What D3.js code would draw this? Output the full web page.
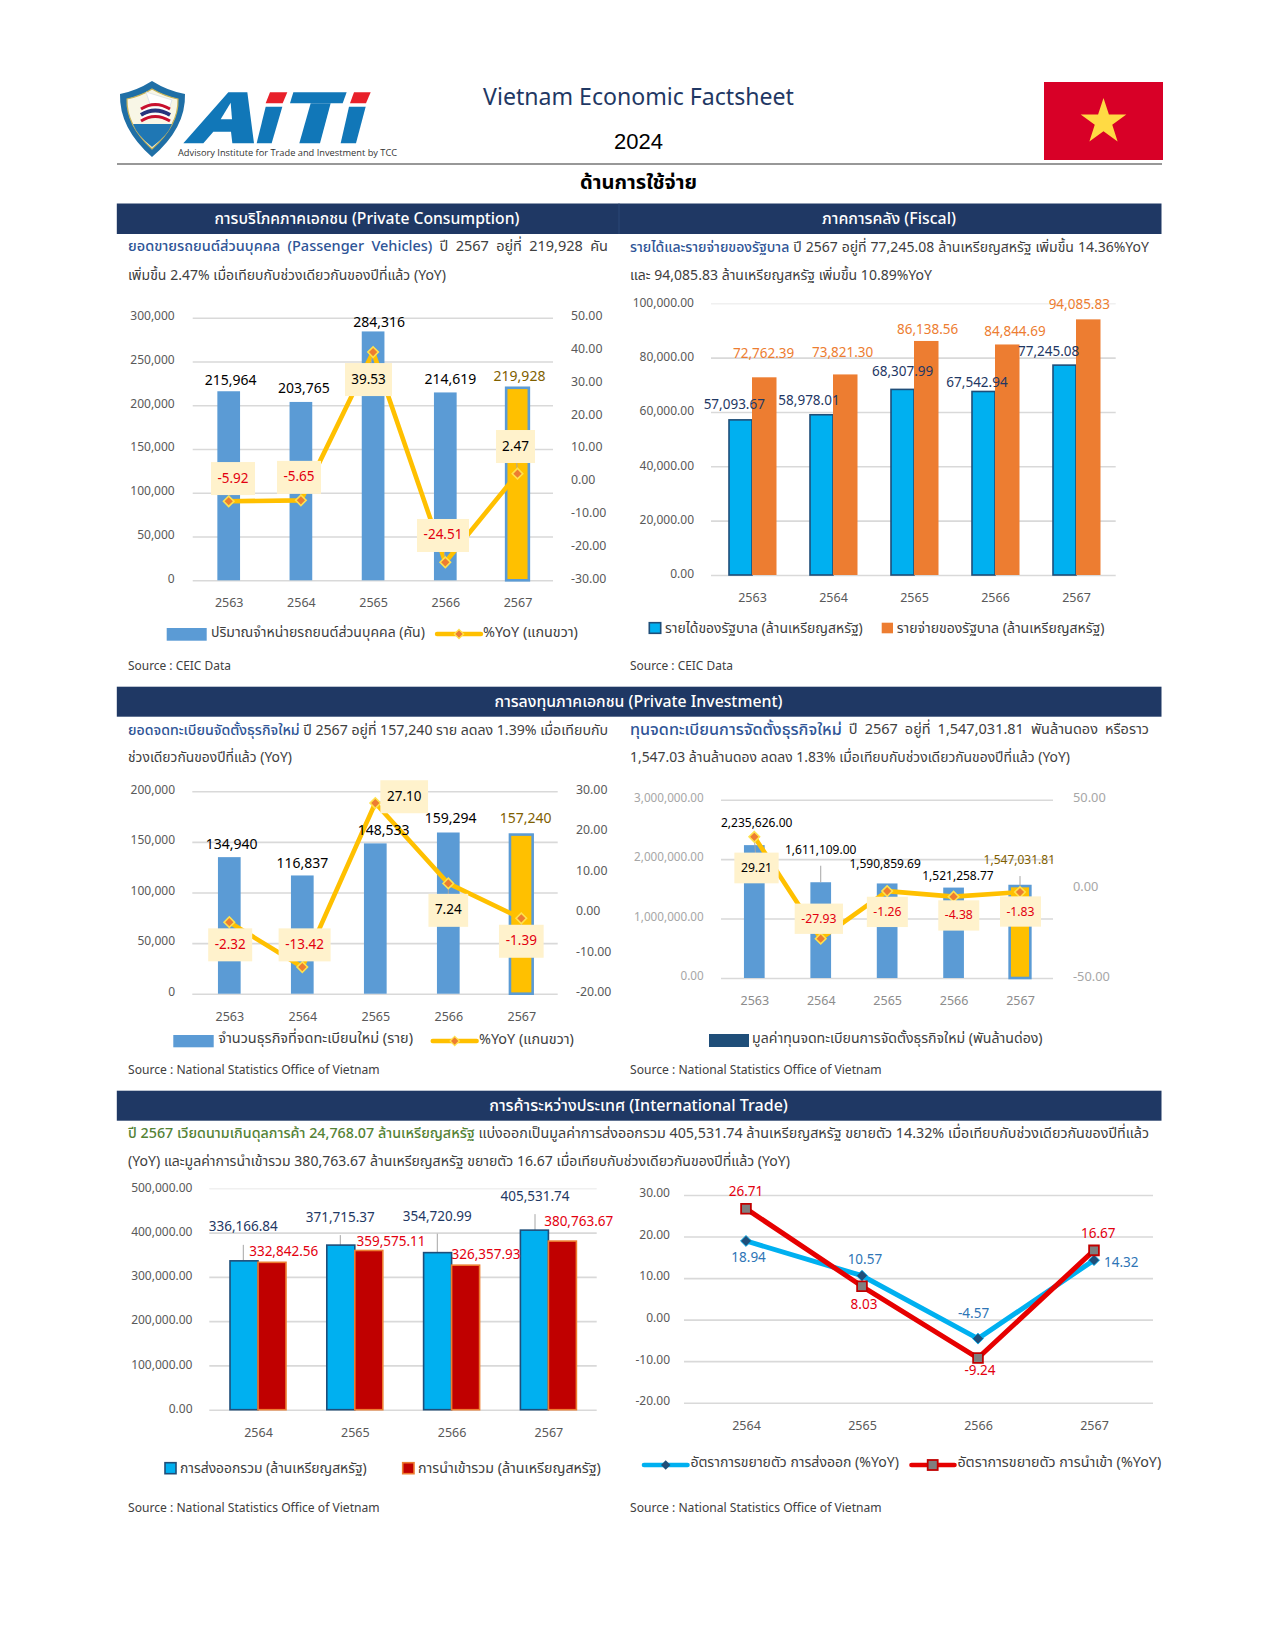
<!DOCTYPE html>
<html lang="th"><head><meta charset="utf-8">
<script src="https://cdn.jsdelivr.net/npm/d3@7"></script>
<style>
html,body{margin:0;padding:0;background:#fff}
svg{display:block}
text{font-family:"Noto Sans Thai","Noto Sans","Open Sans",sans-serif}
.tick line{stroke:#d9d9d9;stroke-width:1.6}
</style></head><body>
<svg id="page" width="1275" height="1650" xmlns="http://www.w3.org/2000/svg"></svg>
<script>
// ---------- data ----------
const yearsFive = ["2563","2564","2565","2566","2567"];
const yearsFour = ["2564","2565","2566","2567"];

const vehicleUnits = [215964,203765,284316,214619,219928];
const vehicleYoY = [-5.92,-5.65,39.53,-24.51,2.47];
const vehicleTicksLeft = [0,50000,100000,150000,200000,250000,300000];
const vehicleTicksRight = [-30,-20,-10,0,10,20,30,40,50];

const govRevenue = [57093.67,58978.01,68307.99,67542.94,77245.08];
const govExpense = [72762.39,73821.30,86138.56,84844.69,94085.83];
const govTicks = [0,20000,40000,60000,80000,100000];

const firmCount = [134940,116837,148533,159294,157240];
const firmYoY = [-2.32,-13.42,27.10,7.24,-1.39];
const firmTicksLeft = [0,50000,100000,150000,200000];
const firmTicksRight = [-20,-10,0,10,20,30];

const capitalValue = [2235626.00,1611109.00,1590859.69,1521258.77,1547031.81];
const capitalYoY = [29.21,-27.93,-1.26,-4.38,-1.83];
const capitalTicksLeft = [0,1000000,2000000,3000000];
const capitalTicksRight = [-50,0,50];

const exportValue = [336166.84,371715.37,354720.99,405531.74];
const importValue = [332842.56,359575.11,326357.93,380763.67];
const tradeTicks = [0,100000,200000,300000,400000,500000];

const exportYoY = [18.94,10.57,-4.57,14.32];
const importYoY = [26.71,8.03,-9.24,16.67];
const growthTicks = [-20,-10,0,10,20,30];

const titleText = "Vietnam Economic Factsheet";
const yearText = "2024";
const sectionText = "ด้านการใช้จ่าย";
const headConsumption = "การบริโภคภาคเอกชน (Private Consumption)";
const headFiscal = "ภาคการคลัง (Fiscal)";
const headInvestment = "การลงทุนภาคเอกชน (Private Investment)";
const headTrade = "การค้าระหว่างประเทศ (International Trade)";
const srcCeic = "Source : CEIC Data";
const srcNso = "Source : National Statistics Office of Vietnam";

// ---------- helpers ----------
const svg = d3.select("#page");
const C = {navy:"#1f3864",bar:"#5b9bd5",gold:"#ffc000",cyan:"#00b0f0",orange:"#ed7d31",crim:"#c00000",
  red:"#e3000f",box:"#fff2cc",axis:"#595959",grid:"#d9d9d9",body:"#404040",brown:"#7f6000",steel:"#1f4e79"};
const loc = d3.formatLocale({decimal:".",thousands:",",grouping:[3],currency:["",""],minus:"-"});
const f0 = loc.format(",.0f"), f2 = loc.format(",.2f"), p2 = loc.format(".2f");

function fitText(sel, target, lo, hi){
  const n = sel.node(); const len = n.getComputedTextLength();
  const fs = parseFloat(sel.attr("font-size"));
  let r = target/len; r = Math.max(lo, Math.min(hi, r));
  sel.attr("font-size", fs*r);
}
function label(g, x, y, txt, o={}){
  const t = g.append("text").attr("x",x).attr("y",y).attr("text-anchor",o.anchor||"middle")
    .attr("dominant-baseline","central").attr("font-size",o.size||13.5).attr("fill",o.fill||"#000")
    .attr("font-weight",o.weight||400).text(txt);
  if(o.width) fitText(t,o.width,0.6,1.4);
  return t;
}
function band(y0,y1,x0,x1){
  svg.append("rect").attr("x",x0).attr("y",y0).attr("width",x1-x0).attr("height",y1-y0).attr("fill",C.navy);
}
function headText(x,y,t,w){
  label(svg,x,y,t,{fill:"#fff",size:15,width:w,weight:500});
}
function para(x,y,lead,leadColor,rest,width,leadW){
  const size = 14.5;
  const t = svg.append("text").attr("x",x).attr("y",y).attr("dominant-baseline","central")
    .attr("font-size",size).attr("fill",C.body);
  let ls = null;
  if(lead) ls = t.append("tspan").attr("fill",leadColor).attr("font-weight",500).text(lead);
  t.append("tspan").text(rest);
  if(ls && leadW){
    const r = leadW/ls.node().getComputedTextLength();
    ls.attr("font-size",size*Math.max(0.95,Math.min(1.16,r)));
  }
  const s = t.node().textContent;
  const spaces = (s.match(/ /g)||[]).length;
  const len = t.node().getComputedTextLength();
  if(len>width || len<width*0.9){ t.attr("font-size",size*Math.min(1.12,width/len)); if(ls&&leadW) ls.attr("font-size",null); }
  const l2 = t.node().getComputedTextLength();
  if(spaces) t.style("word-spacing",((width-l2)/spaces)+"px");
}
function frame(o){
  const g = svg.append("g");
  const x = d3.scalePoint().domain(o.cats).range(o.xr);
  const y = d3.scaleLinear().domain(o.yd).range(o.yr);
  const grid = g.append("g").attr("transform",`translate(${o.gx[0]},0)`)
    .call(d3.axisLeft(y).tickValues(o.ticks).tickSize(-(o.gx[1]-o.gx[0])).tickFormat(""));
  grid.select(".domain").remove();
  if(o.faintTop) grid.selectAll(".tick line").filter(d=>d===o.ticks[o.ticks.length-1]).style("stroke","#f0f0f0");
  const la = g.append("g").attr("transform",`translate(${o.lx},0)`)
    .call(d3.axisLeft(y).tickValues(o.ticks).tickSize(0).tickPadding(0).tickFormat(o.fmt));
  la.select(".domain").remove();
  la.selectAll("text").attr("font-size",o.tickSize||12).attr("fill",o.tickColor||C.axis)
    .attr("dy","0.32em").attr("y",o.lshift==null?-2:o.lshift).style("font-family",'"Noto Sans","Open Sans",sans-serif');
  const xa = g.append("g").attr("transform",`translate(0,${o.catY})`)
    .call(d3.axisBottom(x).tickSize(0).tickPadding(0));
  xa.select(".domain").remove();
  xa.selectAll("text").attr("font-size",o.catSize||12.5).attr("fill",o.catColor||C.axis)
    .attr("y",0).attr("dy","0.32em").style("font-family",'"Noto Sans","Open Sans",sans-serif');
  return {g,x,y};
}
function rightAxis(g, o){
  const y = d3.scaleLinear().domain(o.yd).range(o.yr);
  const a = g.append("g").attr("transform",`translate(${o.rx},0)`)
    .call(d3.axisRight(y).tickValues(o.ticks).tickSize(0).tickPadding(0).tickFormat(p2));
  a.select(".domain").remove();
  a.selectAll("text").attr("font-size",o.tickSize||12.3).attr("fill",o.tickColor||C.axis)
    .attr("dy","0.32em").attr("y",o.rshift||-2).style("font-family",'"Noto Sans","Open Sans",sans-serif');
  return y;
}
function yoyLine(g,x,y,cats,vals,boxes,o={}){
  const pts = cats.map((c,i)=>[x(c),y(vals[i])]);
  g.append("path").attr("d",d3.line()(pts)).attr("fill","none").attr("stroke",C.gold).attr("stroke-width",4.6).attr("stroke-linejoin","round");
  const m = d3.symbol().type(d3.symbolSquare).size(55);
  g.selectAll(null).data(pts).join("line").attr("x1",d=>d[0]).attr("y1",d=>d[1])
    .attr("x2",(d,i)=>d[0]+boxes[i].dx).attr("y2",(d,i)=>d[1]+boxes[i].dy).attr("stroke","#a6a6a6").attr("stroke-width",1);
  g.selectAll(null).data(pts).join("path").attr("d",m)
    .attr("transform",d=>`translate(${d[0]},${d[1]}) rotate(45)`)
    .attr("fill",C.orange).attr("stroke","#ffe14d").attr("stroke-width",1.6);
  vals.forEach((v,i)=>{
    const b = boxes[i], cx = pts[i][0]+b.dx, cy = pts[i][1]+b.dy;
    g.append("rect").attr("x",cx-b.w/2).attr("y",cy-b.h/2).attr("width",b.w).attr("height",b.h).attr("fill",C.box);
    label(g,cx,cy,p2(v),{fill:v<0?C.red:"#000",size:o.size||13.5});
  });
}
function barLabels(g,x,y,cats,vals,fmt,off,colorOf,size){
  vals.forEach((v,i)=>{
    label(g,x(cats[i])+off[i][0],y(v)+off[i][1],fmt(v),{fill:colorOf(i),size:size||13.5});
  });
}
function singleBars(g,x,y,cats,vals,w,base){
  vals.forEach((v,i)=>{
    const last = i===vals.length-1;
    g.append("rect").attr("x",x(cats[i])-w/2).attr("y",y(v)).attr("width",w).attr("height",base-y(v))
      .attr("fill",last?C.gold:C.bar).attr("stroke",last?C.bar:"none").attr("stroke-width",last?2.6:0);
  });
}
function pairBars(g,x,y,cats,a,b,wa,wb,base,sa,sb){
  cats.forEach((c,i)=>{
    g.append("rect").attr("x",x(c)-wa).attr("y",y(a[i])).attr("width",wa).attr("height",base-y(a[i]))
      .attr("fill",C.cyan).attr("stroke",sa).attr("stroke-width",1.6);
    g.append("rect").attr("x",x(c)).attr("y",y(b[i])).attr("width",wb).attr("height",base-y(b[i]))
      .attr("fill",b===importValue?C.crim:C.orange).attr("stroke",sb).attr("stroke-width",b===importValue?1.6:0);
  });
}
function legendSwatch(x0,x1,y0,y1,fill,stroke,tx,ty,t,tw){
  svg.append("rect").attr("x",x0).attr("y",y0).attr("width",x1-x0).attr("height",y1-y0).attr("fill",fill)
    .attr("stroke",stroke||"none").attr("stroke-width",stroke?1.6:0);
  label(svg,tx,ty,t,{anchor:"start",size:14,fill:C.body,width:tw});
}
function legendYoY(x0,x1,y,tx,ty,t,tw){
  svg.append("line").attr("x1",x0).attr("x2",x1).attr("y1",y).attr("y2",y).attr("stroke",C.gold).attr("stroke-width",4.4).attr("stroke-linecap","round");
  svg.append("path").attr("d",d3.symbol().type(d3.symbolSquare).size(42)).attr("transform",`translate(${(x0+x1)/2},${y}) rotate(45)`)
    .attr("fill",C.orange).attr("stroke","#ffe14d").attr("stroke-width",1.3);
  label(svg,tx,ty,t,{anchor:"start",size:14,fill:C.body,width:tw});
}
function source(x,y,t,w){ label(svg,x,y,t,{anchor:"start",size:12,fill:C.body,width:w}); }

// ---------- header ----------
const u = (a)=>a.map(p=>[p[0]/3+100,p[1]/3+60].join(",")).join(" ");
const logo = svg.append("g");
const logoBlue="#1177b8", logoRed="#e8202a";
[[[250,250],[385,97],[442,97],[462,250],[397,250],[393,215],[340,215],[310,250]],
 [[497,140],[547,140],[515,250],[470,250]],
 [[632,130],[692,130],[660,250],[598,250]],
 [[747,140],[797,140],[768,250],[722,250]],
 [[580,97],[740,97],[728,130],[570,130]]].forEach(p=>logo.append("polygon").attr("points",u(p)).attr("fill",logoBlue));
[[[362,178],[392,128],[396,178]]].forEach(p=>logo.append("polygon").attr("points",u(p)).attr("fill","#fff"));
[[[510,97],[562,97],[548,130],[497,130]],[[762,97],[812,97],[798,130],[750,130]]]
 .forEach(p=>logo.append("polygon").attr("points",u(p)).attr("fill",logoRed));
logo.append("path").attr("d","M120,94 Q136,91 152,81 Q168,91 185,94 Q186,128 152,157 Q119,128 120,94Z").attr("fill","#1f6fa6");
logo.append("path").attr("d","M127,99 Q141,96 152,89 Q164,96 178,99 Q179,125 152,149 Q126,125 127,99Z").attr("fill","#f8f6e6").attr("stroke","#c9b458").attr("stroke-width",1.2);
logo.append("polygon").attr("points","146,92 172,100 168,112 150,104").attr("fill","#fff").attr("stroke","#cfd8e3").attr("stroke-width",.6);
logo.append("path").attr("d","M133,124 L172,124 Q168,135 152,147 Q137,135 133,124Z").attr("fill","#1f77b4");
[["#c8102e",105,3],["#fff",108.3,1.8],["#27357e",111,4],["#fff",114.3,1.8],["#c8102e",117,3]].forEach(s=>{
  logo.append("path").attr("d",`M141,${s[1]+4} Q155,${s[1]-5} 170,${s[1]+4}`).attr("fill","none").attr("stroke",s[0]).attr("stroke-width",s[2]);
});
label(svg,178,152,"Advisory Institute for Trade and Investment by TCC",{anchor:"start",size:10,fill:"#333",width:221}).style("font-family",'"Open Sans",sans-serif');

label(svg,638.5,96,titleText,{size:23,fill:C.navy,width:311}).style("font-family",'"Noto Sans",sans-serif');
label(svg,638.5,141,yearText,{size:22,fill:"#000"}).style("font-family",'"Liberation Sans",sans-serif');
svg.append("rect").attr("x",1044).attr("y",82).attr("width",119).attr("height",78).attr("fill","#d80027");
const star = d3.range(10).map(i=>{const r=i%2?9.2:24,a=-Math.PI/2+i*Math.PI/5;return [1103.5+r*Math.cos(a),122+r*Math.sin(a)].join(",")}).join(" ");
svg.append("polygon").attr("points",star).attr("fill","#ffda44");
svg.append("line").attr("x1",117).attr("x2",1162).attr("y1",164).attr("y2",164).attr("stroke","#333").attr("stroke-width",1.2);
label(svg,638.5,183,sectionText,{size:19,fill:"#000",weight:700,width:117});

band(203.5,234,116.8,1161.5);
svg.append("line").attr("x1",619).attr("x2",619).attr("y1",203.5).attr("y2",234).attr("stroke","#2a4676").attr("stroke-width",1);
headText(367,218.5,headConsumption,305);
headText(889,218.5,headFiscal,134);
band(686.7,716.7,116.8,1161.5);
headText(638.5,701.5,headInvestment,288);
band(1090.7,1120.7,116.8,1161.5);
headText(638.5,1105.5,headTrade,299);

// ---------- paragraphs ----------
const leadBlue="#2f5597", leadGreen="#548235";
para(128,247,"ยอดขายรถยนต์ส่วนบุคคล (Passenger Vehicles)",leadBlue," ปี 2567 อยู่ที่ 219,928 คัน",480);
para(128,275,"",null,"เพิ่มขึ้น 2.47% เมื่อเทียบกับช่วงเดียวกันของปีที่แล้ว (YoY)",318);
para(630,247,"รายได้และรายจ่ายของรัฐบาล",leadBlue," ปี 2567 อยู่ที่ 77,245.08 ล้านเหรียญสหรัฐ เพิ่มขึ้น 14.36%YoY",519,167);
para(630,275,"",null,"และ 94,085.83 ล้านเหรียญสหรัฐ เพิ่มขึ้น 10.89%YoY",302);
para(128,730,"ยอดจดทะเบียนจัดตั้งธุรกิจใหม่",leadBlue," ปี 2567 อยู่ที่ 157,240 ราย ลดลง 1.39% เมื่อเทียบกับ",480,175);
para(128,757,"",null,"ช่วงเดียวกันของปีที่แล้ว (YoY)",164);
para(630,730,"ทุนจดทะเบียนการจัดตั้งธุรกิจใหม่",leadBlue," ปี 2567 อยู่ที่ 1,547,031.81 พันล้านดอง หรือราว",519,212);
para(630,757,"",null,"1,547.03 ล้านล้านดอง ลดลง 1.83% เมื่อเทียบกับช่วงเดียวกันของปีที่แล้ว (YoY)",440);
para(128,1133,"ปี 2567 เวียดนามเกินดุลการค้า 24,768.07 ล้านเหรียญสหรัฐ",leadGreen," แบ่งออกเป็นมูลค่าการส่งออกรวม 405,531.74 ล้านเหรียญสหรัฐ ขยายตัว 14.32% เมื่อเทียบกับช่วงเดียวกันของปีที่แล้ว",1021);
para(128,1161,"",null,"(YoY) และมูลค่าการนำเข้ารวม 380,763.67 ล้านเหรียญสหรัฐ ขยายตัว 16.67 เมื่อเทียบกับช่วงเดียวกันของปีที่แล้ว (YoY)",662);

// ---------- chart 1: vehicles ----------
{
  const base=580.3;
  const c=frame({cats:yearsFive,xr:[228.7,517.5],yd:[0,300000],yr:[base,317.7],gx:[192.7,553],ticks:vehicleTicksLeft,lx:174.7,fmt:f0,catY:603});
  const yR=rightAxis(c.g,{yd:[-30,50],yr:[base,317.7],rx:571,ticks:vehicleTicksRight});
  singleBars(c.g,c.x,c.y,yearsFive,vehicleUnits,22.7,base);
  yoyLine(c.g,c.x,yR,yearsFive,vehicleYoY,[
    {dx:4.3,dy:-22.7,w:44,h:33},{dx:-1.9,dy:-23,w:44,h:33},{dx:-4.6,dy:27.5,w:47,h:33},{dx:-2.3,dy:-26.8,w:52,h:33},{dx:-2,dy:-27.2,w:39,h:33}]);
  barLabels(c.g,c.x,c.y,yearsFive,vehicleUnits,f0,[[2,-11],[3,-13],[6,-9],[5,-13],[2,-11]],i=>i==4?C.brown:"#000",14);
  legendSwatch(166.7,206.7,628,640.7,C.bar,null,211,632,"ปริมาณจำหน่ายรถยนต์ส่วนบุคคล (คัน)",214);
  legendYoY(437,481,634,483,632,"%YoY (แกนขวา)",95);
  source(128,666,srcCeic,103);
}
// ---------- chart 2: fiscal ----------
{
  const base=575;
  const c=frame({cats:yearsFive,xr:[752,1076],yd:[0,100000],yr:[base,303.3],gx:[711,1115.7],ticks:govTicks,lx:694,fmt:f2,catY:598,lshift:-1,faintTop:true});
  pairBars(c.g,c.x,c.y,yearsFive,govRevenue,govExpense,23,24.5,base,C.steel,"none");
  barLabels(c.g,c.x,c.y,yearsFive,govRevenue,f2,[[-17.7,-15],[-24,-13.5],[-11.4,-17.4],[-18,-8.2],[-27.4,-13]],()=>C.navy);
  barLabels(c.g,c.x,c.y,yearsFive,govExpense,f2,[[11.6,-23.6],[9.6,-21],[13.6,-11],[20,-12.5],[3.3,-14]],()=>C.orange);
  legendSwatch(649.3,660.7,622.7,633.3,C.cyan,C.steel,665,628,"รายได้ของรัฐบาล (ล้านเหรียญสหรัฐ)",198);
  legendSwatch(881.7,893,622.7,633.3,C.orange,null,896.7,628,"รายจ่ายของรัฐบาล (ล้านเหรียญสหรัฐ)",208);
  source(630,665.5,srcCeic,103);
}
// ---------- chart 3: firms ----------
{
  const base=993.7;
  const c=frame({cats:yearsFive,xr:[229.3,521.3],yd:[0,200000],yr:[base,791.3],gx:[192.3,557.7],ticks:firmTicksLeft,lx:175,fmt:f0,catY:1016.7});
  const yR=rightAxis(c.g,{yd:[-20,30],yr:[base,791.3],rx:576,ticks:firmTicksRight});
  singleBars(c.g,c.x,c.y,yearsFive,firmCount,22.7,base);
  yoyLine(c.g,c.x,yR,yearsFive,firmYoY,[
    {dx:.9,dy:22.7,w:44,h:33},{dx:2.3,dy:-22.2,w:52,h:33},{dx:28.9,dy:-6.3,w:47.7,h:33},{dx:0,dy:26.9,w:39.7,h:33},{dx:0,dy:22.9,w:44.7,h:33}]);
  barLabels(c.g,c.x,c.y,yearsFive,firmCount,f0,[[2.4,-13],[0,-11.5],[8.4,-13],[2.4,-13.5],[4.4,-15.6]],i=>i==4?C.brown:"#000",14);
  legendSwatch(173.3,213.7,1035,1047.3,C.bar,null,218.3,1039,"จำนวนธุรกิจที่จดทะเบียนใหม่ (ราย)",195);
  legendYoY(432.7,476.7,1041,479,1039,"%YoY (แกนขวา)",95);
  source(128,1070,srcNso,252);
}
// ---------- chart 4: capital ----------
{
  const base=978, grey="#8c8c8c";
  const c=frame({cats:yearsFive,xr:[754.3,1020],yd:[0,3000000],yr:[base,799.7],gx:[721,1053],ticks:capitalTicksLeft,lx:703.7,fmt:f2,catY:1000.7,tickColor:"#a6a6a6",catColor:grey,tickSize:11.7});
  const yR=rightAxis(c.g,{yd:[-50,50],yr:[base,799.7],rx:1073,ticks:capitalTicksRight,tickColor:"#a6a6a6",tickSize:12.8,rshift:-2});
  singleBars(c.g,c.x,c.y,yearsFive,capitalValue,20.7,base);
  [1,4].forEach(i=>{
    c.g.append("line").attr("x1",c.x(yearsFive[i])).attr("x2",c.x(yearsFive[i]))
      .attr("y1",c.y(capitalValue[i])).attr("y2",c.y(capitalValue[i])-(i==1?16.5:10)).attr("stroke","#a6a6a6").attr("stroke-width",1);
  });
  yoyLine(c.g,c.x,yR,yearsFive,capitalYoY,[
    {dx:2.2,dy:31.2,w:44.3,h:30.7},{dx:-1.9,dy:-19.9,w:48.3,h:30.3},{dx:.2,dy:20.8,w:41,h:30.3},{dx:5.2,dy:18.8,w:41,h:30.3},{dx:.5,dy:19.4,w:41,h:30.3}],{size:12.2});
  barLabels(c.g,c.x,c.y,yearsFive,capitalValue,f2,[[2.4,-22.4],[0,-32.6],[-2,-19.8],[4.4,-11.9],[-.7,-26.4]],i=>i==4?C.brown:"#000",12);
  legendSwatch(709,749,1034,1047,C.steel,null,752,1038.5,"มูลค่าทุนจดทะเบียนการจัดตั้งธุรกิจใหม่ (พันล้านด่อง)",291);
  source(630,1070,srcNso,252);
}
// ---------- chart 5: trade ----------
{
  const base=1409.7;
  const c=frame({cats:yearsFour,xr:[258,548.4],yd:[0,500000],yr:[base,1188.3],gx:[209.3,596.7],ticks:tradeTicks,lx:192.5,fmt:f2,catY:1432.7,lshift:-1,faintTop:true});
  [[-14.7,-33.8,16],[-14.5,-27,10],[-14.3,-35.6,19],[-13.4,-33,16]].forEach((o,i)=>{
    const xp=c.x(yearsFour[i])+o[0], yt=c.y(exportValue[i]);
    c.g.append("line").attr("x1",xp).attr("x2",xp).attr("y1",yt).attr("y2",yt-o[2]).attr("stroke","#a6a6a6").attr("stroke-width",1);
  });
  pairBars(c.g,c.x,c.y,yearsFour,exportValue,importValue,28,28,base,C.steel,C.orange);
  barLabels(c.g,c.x,c.y,yearsFour,exportValue,f2,[[-14.7,-33.8],[-14.5,-27],[-14.3,-35.6],[-13.4,-33]],()=>C.navy);
  barLabels(c.g,c.x,c.y,yearsFour,importValue,f2,[[25.7,-10.3],[36.2,-8.2],[34.4,-10.2],[30.3,-18.8]],()=>C.red);
  legendSwatch(165,176,1462.7,1473.7,C.cyan,C.steel,180,1468.7,"การส่งออกรวม (ล้านเหรียญสหรัฐ)",187);
  legendSwatch(402.7,414,1462.7,1473.7,C.crim,C.orange,418,1468.7,"การนำเข้ารวม (ล้านเหรียญสหรัฐ)",183);
  source(128,1507.7,srcNso,252);
}
// ---------- chart 6: growth ----------
{
  const c=frame({cats:yearsFour,xr:[746,1094],yd:[-20,30],yr:[1402.7,1195],gx:[684,1153],ticks:growthTicks,lx:670,fmt:p2,catY:1426});
  const exportColor=C.cyan, importColor="#e60000", exportLabel="#2e75b6";
  const drawLine=(vals,col)=>c.g.append("path").attr("d",d3.line().x((d,i)=>c.x(yearsFour[i])).y(d=>c.y(d))(vals))
     .attr("fill","none").attr("stroke",col).attr("stroke-width",5).attr("stroke-linejoin","round");
  drawLine(exportYoY,exportColor);
  drawLine(importYoY,importColor);
  c.g.selectAll(null).data(exportYoY).join("path").attr("d",d3.symbol().type(d3.symbolSquare).size(60))
    .attr("transform",(d,i)=>`translate(${c.x(yearsFour[i])},${c.y(d)}) rotate(45)`).attr("fill",C.steel).attr("stroke",exportColor).attr("stroke-width",.8);
  c.g.selectAll(null).data(importYoY).join("path").attr("d",d3.symbol().type(d3.symbolSquare).size(95))
    .attr("transform",(d,i)=>`translate(${c.x(yearsFour[i])},${c.y(d)})`).attr("fill","#7f7f7f").attr("stroke",C.crim).attr("stroke-width",1.8);
  barLabels(c.g,c.x,c.y,yearsFour,exportYoY,p2,[[2.6,17.4],[2.9,-15.4],[-4.4,-24.6],[27.3,2.9]],()=>exportLabel);
  barLabels(c.g,c.x,c.y,yearsFour,importYoY,p2,[[0,-16.3],[2,18.8],[2,13.3],[4.3,-16.4]],()=>C.red);
  svg.append("line").attr("x1",644).attr("x2",687.5).attr("y1",1465).attr("y2",1465).attr("stroke",exportColor).attr("stroke-width",4.6).attr("stroke-linecap","round");
  svg.append("path").attr("d",d3.symbol().type(d3.symbolSquare).size(44)).attr("transform","translate(665.7,1465) rotate(45)").attr("fill",C.steel);
  label(svg,690.4,1462.7,"อัตราการขยายตัว การส่งออก (%YoY)",{anchor:"start",size:14,fill:C.body,width:208.6});
  svg.append("line").attr("x1",911.5).attr("x2",954.5).attr("y1",1465).attr("y2",1465).attr("stroke",importColor).attr("stroke-width",4.6).attr("stroke-linecap","round");
  svg.append("rect").attr("x",927.7).attr("y",1460).attr("width",10).attr("height",10).attr("fill","#7f7f7f").attr("stroke",C.crim).attr("stroke-width",1.8);
  label(svg,957.4,1462.7,"อัตราการขยายตัว การนำเข้า (%YoY)",{anchor:"start",size:14,fill:C.body,width:204});
  source(630,1507.7,srcNso,252);
}
</script>
</body></html>
